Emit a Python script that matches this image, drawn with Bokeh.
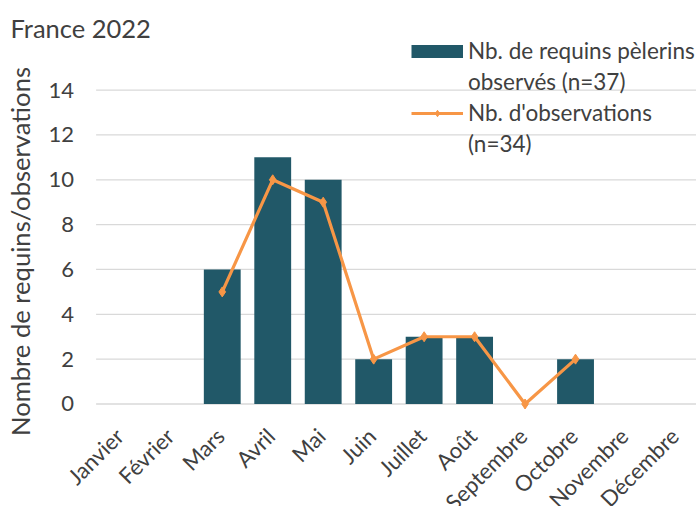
import math
from bokeh.plotting import figure
from bokeh.models import Range1d, Legend, LegendItem, Label, ColumnDataSource
from bokeh.core.properties import value
from bokeh.embed import file_html
from bokeh.resources import INLINE

months = ["Janvier", "Février", "Mars", "Avril", "Mai", "Juin", "Juillet",
          "Août", "Septembre", "Octobre", "Novembre", "Décembre"]
requins = [None, None, 6, 11, 10, 2, 3, 3, None, 2, None, None]
observations = [None, None, 5, 10, 9, 2, 3, 3, 0, 2, None, None]
y_ticks = [0, 2, 4, 6, 8, 10, 12, 14]
title_text = "France 2022"
y_label = "Nombre de requins/observations"
legend_bars = ["Nb. de requins pèlerins", "observés (n=37)"]
legend_line = ["Nb. d'observations", "(n=34)"]

FONT = "Lato"
FS = "22px"
TXT = "#404040"
BAR = "#215868"
ORANGE = "#F79646"
GRID = "#d9d9d9"

W, H = 696, 506
X_START, X_END = -2.394, 11.397
Y_START, Y_END = -4.572, 17.997
NAN = float("nan")

xs = list(range(len(months)))
bar_src = ColumnDataSource(dict(x=[i for i, v in zip(xs, requins) if v is not None],
                                top=[v for v in requins if v is not None]))
line_src = ColumnDataSource(dict(x=xs, y=[NAN if v is None else v for v in observations]))

p = figure(width=W, height=H, output_backend="svg", toolbar_location=None,
           x_range=Range1d(X_START, X_END), y_range=Range1d(Y_START, Y_END),
           x_axis_location=None, y_axis_location=None,
           min_border_left=0, min_border_right=0, min_border_top=0, min_border_bottom=0)
p.outline_line_color = None
p.background_fill_color = "white"
p.border_fill_color = "white"
p.xgrid.visible = False
p.ygrid.visible = False

# horizontal grid lines (value axis)
grid_src = ColumnDataSource(dict(x0=[-0.5] * len(y_ticks), x1=[X_END] * len(y_ticks),
                                 y=y_ticks))
p.segment(x0="x0", y0="y", x1="x1", y1="y", source=grid_src, line_color=GRID, line_width=1.3)

# value-axis tick labels
tick_src = ColumnDataSource(dict(x=[-0.5] * len(y_ticks), y=y_ticks, t=[str(t) for t in y_ticks]))
p.text(x="x", y="y", text="t", source=tick_src, x_offset=-22, text_align="right",
       text_baseline="middle", text_font=value(FONT), text_font_size=value(FS),
       text_color=TXT)

# category labels (rotated)
cat_src = ColumnDataSource(dict(x=xs, y=[0] * len(xs), t=months))
p.text(x="x", y="y", text="t", source=cat_src, angle=math.pi / 4, x_offset=-2, y_offset=28,
       text_align="right", text_baseline="middle", text_font=value(FONT),
       text_font_size=value(FS), text_color=TXT)

bars = p.vbar(x="x", top="top", width=0.73, source=bar_src, fill_color=BAR, line_color=None)
ln = p.line(x="x", y="y", source=line_src, line_color=ORANGE, line_width=3.2)
sc = p.scatter(x="x", y="y", source=line_src, marker="diamond", size=10,
               fill_color=ORANGE, line_color=ORANGE)
blank = p.scatter(x=[NAN], y=[NAN], alpha=0)
# legend swatch for the bars (full-width block like the reference)
bar_swatch = p.line(x=[NAN, NAN], y=[NAN, NAN], line_color=BAR, line_width=13,
                    line_cap="butt")

p.add_layout(Label(x=10, y=H - 27, x_units="screen", y_units="screen", text=title_text,
                   text_font=FONT, text_font_size="25.5px", text_color=TXT,
                   text_baseline="middle", text_align="left"))
p.add_layout(Label(x=19, y=H - 251, x_units="screen", y_units="screen", text=y_label,
                   angle=math.pi / 2, text_font=FONT, text_font_size="25.6px", text_color=TXT,
                   text_baseline="middle", text_align="center"))

legend = Legend(items=[LegendItem(label=legend_bars[0], renderers=[bars, bar_swatch]),
                       LegendItem(label=legend_bars[1], renderers=[blank]),
                       LegendItem(label=legend_line[0], renderers=[ln, sc]),
                       LegendItem(label=legend_line[1], renderers=[blank])],
                location=(411, 349), orientation="vertical",
                glyph_width=52, glyph_height=16, label_standoff=5, spacing=4,
                padding=0, margin=0, background_fill_alpha=0, border_line_alpha=0,
                label_text_font=FONT, label_text_font_size="22.5px", label_text_color=TXT)
p.add_layout(legend, "center")

open("out.html", "w").write(file_html(p, INLINE))
